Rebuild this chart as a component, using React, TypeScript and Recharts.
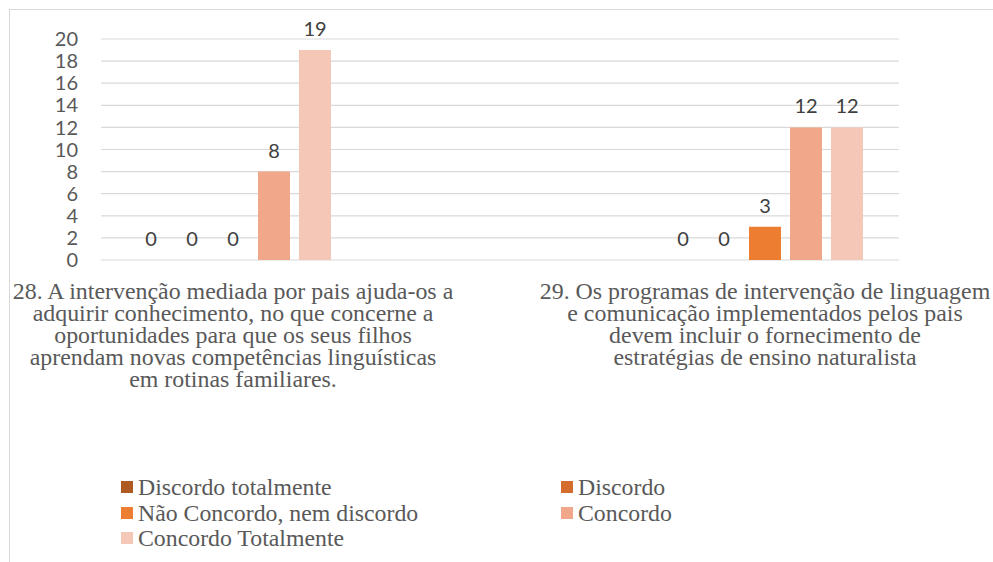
import React from "react";
import { BarChart, Bar, XAxis, YAxis, CartesianGrid, Rectangle } from "recharts";

const categories = [
  "28. A intervenção mediada por pais ajuda-os a\nadquirir conhecimento, no que concerne a\noportunidades para que os seus filhos\naprendam novas competências linguísticas\nem rotinas familiares.",
  "29. Os programas de intervenção de linguagem\ne comunicação implementados pelos pais\ndevem incluir o fornecimento de\nestratégias de ensino naturalista",
];

const seriesNames = [
  "Discordo totalmente",
  "Discordo",
  "Não Concordo, nem discordo",
  "Concordo",
  "Concordo Totalmente",
];
const seriesColors = ["#AE5A22", "#D36C2C", "#ED7D31", "#F1A88A", "#F4C7B7"];

const discordoTotalmente = [0, 0];
const discordo = [0, 0];
const naoConcordoNemDiscordo = [0, 3];
const concordo = [8, 12];
const concordoTotalmente = [19, 12];

const yTicks = [0, 2, 4, 6, 8, 10, 12, 14, 16, 18, 20];

const seriesValues = [discordoTotalmente, discordo, naoConcordoNemDiscordo, concordo, concordoTotalmente];
const keys = ["s0", "s1", "s2", "s3", "s4"];

const data = categories.map((name, i) => {
  const row: Record<string, string | number> = { name };
  seriesValues.forEach((vals, s) => {
    row[keys[s]] = vals[i];
  });
  return row;
});

const SERIF = "'Liberation Serif', 'Times New Roman', serif";
const SANS = "Lato, 'Liberation Sans', sans-serif";

const CategoryTick = (props: any) => {
  const { x, y, payload } = props;
  const lines = String(payload.value).split("\n");
  return (
    <text x={x} y={y} textAnchor="middle" fontFamily={SERIF} fontSize={23.9} fill="#595959">
      {lines.map((l, i) => (
        <tspan key={i} x={x} dy={i === 0 ? 39 : 22}>
          {l}
        </tspan>
      ))}
    </text>
  );
};

const ValueLabel = (props: any) => {
  const { x, y, width, height, value } = props;
  if (value === undefined || value === null) return null;
  const top = Number(y) + (Number(value) === 0 ? Number(height) : 0);
  return (
    <text
      x={Number(x) + Number(width) / 2}
      y={top - 14}
      textAnchor="middle"
      fontFamily={SANS}
      fontSize={20}
      fill="#404040"
    >
      {value}
    </text>
  );
};

const BarShape = (props: any) => {
  if (Number(props.value) === 0) return <g />;
  return <Rectangle {...props} />;
};

export default function App() {
  return (
    <div style={{ position: "fixed", left: 0, top: 0, width: 993, height: 562, overflow: "hidden", background: "#fff" }}>
      <div style={{ position: "absolute", left: 8, top: 8, width: 985, height: 554 }}>
        <div
          style={{
            position: "absolute",
            left: 1,
            top: 1,
            width: 984,
            height: 553,
            borderTop: "1px solid #d9d9d9",
            borderLeft: "1px solid #d9d9d9",
          }}
        />
        <div style={{ position: "absolute", left: 0, top: 0 }}>
          <BarChart
            width={985}
            height={554}
            data={data}
            margin={{ top: 31, right: 94, bottom: 0, left: 23 }}
            barSize={32}
            barGap={9}
          >
            <CartesianGrid vertical={false} stroke="#d9d9d9" strokeWidth={1.2} />
            <XAxis
              dataKey="name"
              height={302}
              tickLine={false}
              axisLine={false}
              tickSize={0}
              tickMargin={0}
              interval={0}
              padding={{ left: -134, right: -132 }}
              tick={<CategoryTick />}
            />
            <YAxis
              width={70}
              domain={[0, 20]}
              ticks={yTicks}
              interval={0}
              tickLine={false}
              axisLine={false}
              tickSize={0}
              tickMargin={23}
              tick={{ fontFamily: SANS, fontSize: 20, fill: "#595959" }}
            />
            {keys.map((k, s) => (
              <Bar
                key={k}
                dataKey={k}
                name={seriesNames[s]}
                fill={seriesColors[s]}
                isAnimationActive={false}
                minPointSize={1}
                shape={<BarShape />}
                label={<ValueLabel />}
              />
            ))}
          </BarChart>
        </div>
        {seriesNames.map((n, i) => {
          const col = i % 2;
          const row = Math.floor(i / 2);
          return (
            <div
              key={n}
              style={{
                position: "absolute",
                left: 113 + col * 440,
                top: 467 + row * 25.5,
                height: 24,
                display: "flex",
                alignItems: "center",
                fontFamily: SERIF,
                fontSize: 23.8,
                color: "#595959",
                whiteSpace: "nowrap",
                lineHeight: "24px",
              }}
            >
              <span
                style={{
                  display: "inline-block",
                  width: 12,
                  height: 12,
                  background: seriesColors[i],
                  marginRight: 5,
                }}
              />
              <span>{n}</span>
            </div>
          );
        })}
      </div>
    </div>
  );
}
